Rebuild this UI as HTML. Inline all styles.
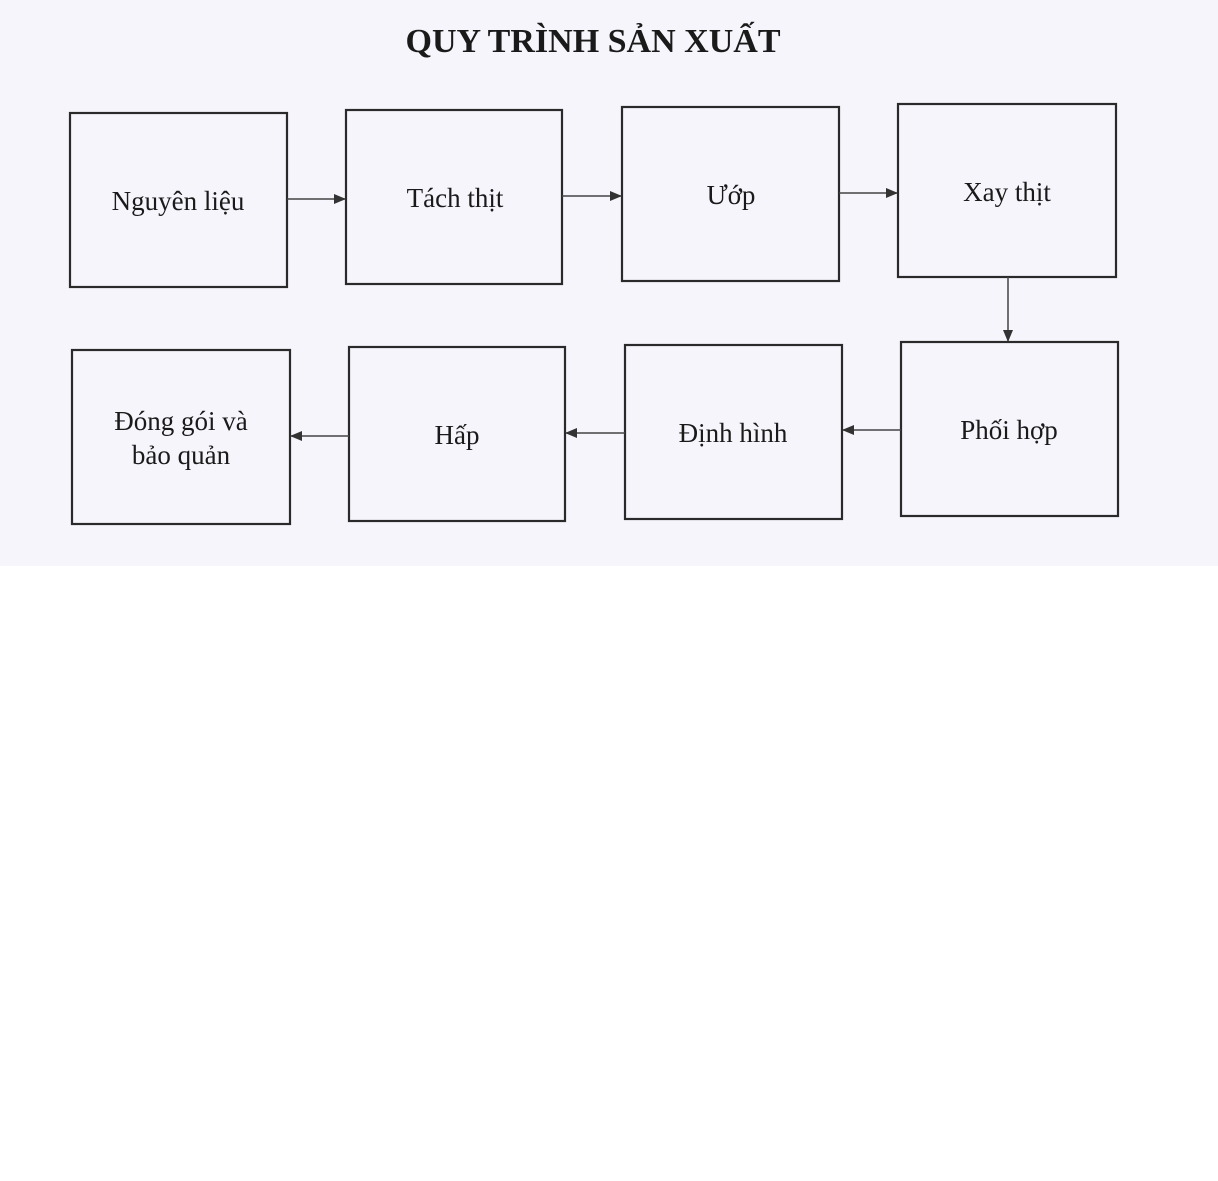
<!DOCTYPE html>
<html><head><meta charset="utf-8"><style>
html,body{margin:0;padding:0;background:#fff;width:1218px;height:1181px;overflow:hidden}
svg{display:block}
text{font-family:"Liberation Serif",serif;fill:#1a1a1a}
</style></head><body>
<svg width="1218" height="1181" viewBox="0 0 1218 1181">
<defs><marker id="a" markerWidth="12" markerHeight="10" refX="11" refY="5" orient="auto" markerUnits="userSpaceOnUse"><path d="M0,0 L12,5 L0,10 z" fill="#333"/></marker></defs>
<rect x="0" y="0" width="1218" height="566" fill="#f6f5fb"/>
<text x="593" y="52" font-size="34" font-weight="bold" text-anchor="middle">QUY TRÌNH SẢN XUẤT</text>
<g fill="none" stroke="#2a2a2a" stroke-width="2.2">
<rect x="70" y="113" width="217" height="174"/>
<rect x="346" y="110" width="216" height="174"/>
<rect x="622" y="107" width="217" height="174"/>
<rect x="898" y="104" width="218" height="173"/>
<rect x="901" y="342" width="217" height="174"/>
<rect x="625" y="345" width="217" height="174"/>
<rect x="349" y="347" width="216" height="174"/>
<rect x="72" y="350" width="218" height="174"/>
</g>
<g stroke="#444" stroke-width="1.5" marker-end="url(#a)">
<line x1="287" y1="199" x2="345" y2="199"/>
<line x1="562" y1="196" x2="621" y2="196"/>
<line x1="839" y1="193" x2="897" y2="193"/>
<line x1="1008" y1="277" x2="1008" y2="341"/>
<line x1="901" y1="430" x2="843" y2="430"/>
<line x1="625" y1="433" x2="566" y2="433"/>
<line x1="349" y1="436" x2="291" y2="436"/>
</g>
<g font-size="27" text-anchor="middle">
<text x="178" y="210">Nguyên liệu</text>
<text x="455" y="207">Tách thịt</text>
<text x="731" y="204">Ướp</text>
<text x="1007" y="201">Xay thịt</text>
<text x="1009" y="439">Phối hợp</text>
<text x="733" y="442">Định hình</text>
<text x="457" y="444">Hấp</text>
<text x="181" y="430">Đóng gói và</text>
<text x="181" y="464">bảo quản</text>
</g>
</svg>
</body></html>
